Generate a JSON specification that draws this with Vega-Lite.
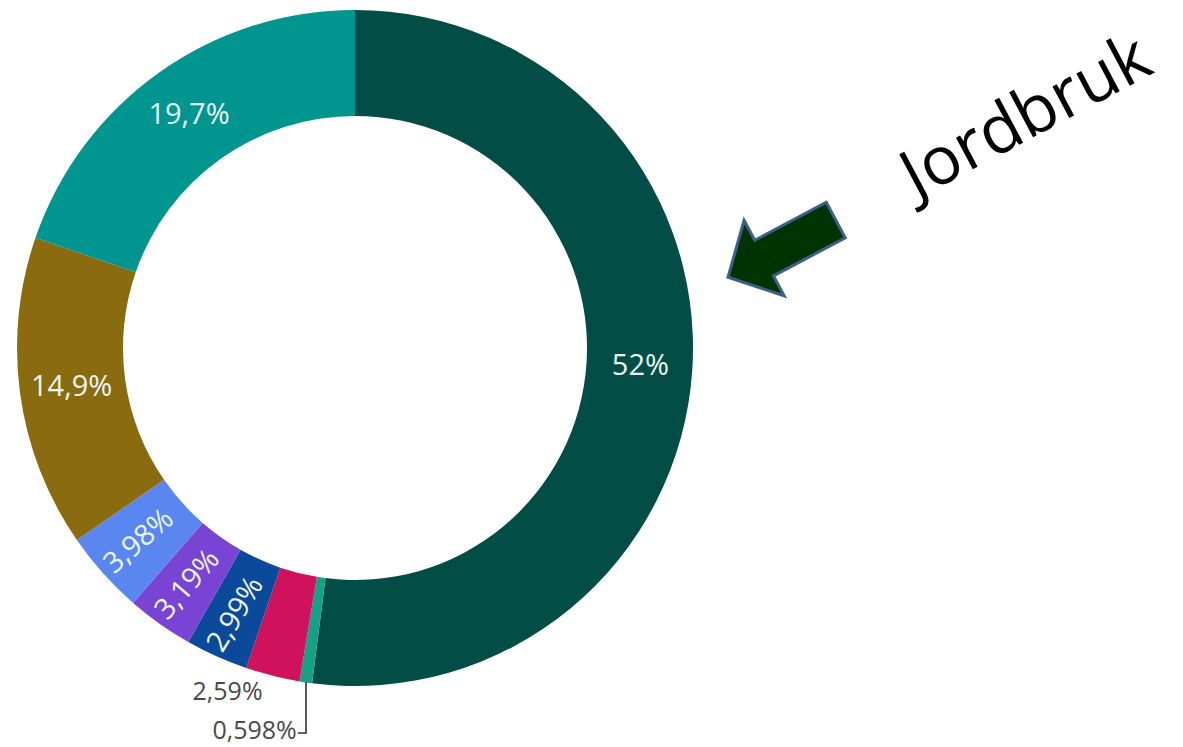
{
  "$schema": "https://vega.github.io/schema/vega-lite/v6.json",
  "width": 710,
  "height": 696,
  "padding": 0,
  "background": "white",
  "config": {"view": {"stroke": null}},
  "datasets": {
    "shares": [
      {"cat": "Jordbruk", "share": 52, "label": "52%", "rank": 1},
      {"cat": "Kategori 2", "share": 0.598, "label": "0,598%", "rank": 2},
      {"cat": "Kategori 3", "share": 2.59, "label": "2,59%", "rank": 3},
      {"cat": "Kategori 4", "share": 2.99, "label": "2,99%", "rank": 4},
      {"cat": "Kategori 5", "share": 3.19, "label": "3,19%", "rank": 5},
      {"cat": "Kategori 6", "share": 3.98, "label": "3,98%", "rank": 6},
      {"cat": "Kategori 7", "share": 14.9, "label": "14,9%", "rank": 7},
      {"cat": "Kategori 8", "share": 19.7, "label": "19,7%", "rank": 8}
    ],
    "leader": [
      {"x": -0.145, "y": -0.988, "k": 1},
      {"x": -0.145, "y": -1.139, "k": 2},
      {"x": -0.169, "y": -1.139, "k": 3}
    ],
    "note": [
      {"x": 2.015, "y": 0.628, "text": "Jordbruk"}
    ],
    "arrow": [
      {"x": 1.263, "y": 0.294}
    ]
  },
  "layer": [
    {
      "data": {"name": "shares"},
      "mark": {"type": "arc", "innerRadius": 232, "outerRadius": 338},
      "encoding": {
        "theta": {"field": "share", "type": "quantitative", "stack": true},
        "order": {"field": "rank", "type": "quantitative"},
        "color": {
          "field": "cat", "type": "nominal", "legend": null,
          "scale": {
            "domain": ["Jordbruk", "Kategori 2", "Kategori 3", "Kategori 4", "Kategori 5", "Kategori 6", "Kategori 7", "Kategori 8"],
            "range": ["#024e47", "#17a088", "#d0115c", "#0b4a9b", "#7944d3", "#5a86ef", "#8b6b10", "#00958f"]
          }
        }
      }
    },
    {
      "data": {"name": "shares"},
      "mark": {"type": "text", "radius": 286, "fontSize": 29, "font": "Open Sans", "fill": "#eaf5f3", "align": "center", "baseline": "middle"},
      "encoding": {
        "theta": {"field": "share", "type": "quantitative", "stack": true},
        "order": {"field": "rank", "type": "quantitative"},
        "detail": {"field": "cat", "type": "nominal"},
        "text": {"condition": {"test": "datum.rank == 1 || datum.rank == 7 || datum.rank == 8", "field": "label"}, "value": ""}
      }
    },
    {
      "data": {"name": "shares"},
      "mark": {"type": "text", "radius": 290, "fontSize": 29, "font": "Open Sans", "fill": "#eaf5f3", "align": "center", "baseline": "middle", "angle": 319},
      "encoding": {
        "theta": {"field": "share", "type": "quantitative", "stack": true},
        "order": {"field": "rank", "type": "quantitative"},
        "detail": {"field": "cat", "type": "nominal"},
        "text": {"condition": {"test": "datum.rank == 6", "field": "label"}, "value": ""}
      }
    },
    {
      "data": {"name": "shares"},
      "mark": {"type": "text", "radius": 290, "fontSize": 29, "font": "Open Sans", "fill": "#eaf5f3", "align": "center", "baseline": "middle", "angle": 311},
      "encoding": {
        "theta": {"field": "share", "type": "quantitative", "stack": true},
        "order": {"field": "rank", "type": "quantitative"},
        "detail": {"field": "cat", "type": "nominal"},
        "text": {"condition": {"test": "datum.rank == 5", "field": "label"}, "value": ""}
      }
    },
    {
      "data": {"name": "shares"},
      "mark": {"type": "text", "radius": 292, "fontSize": 29, "font": "Open Sans", "fill": "#eaf5f3", "align": "center", "baseline": "middle", "angle": 301},
      "encoding": {
        "theta": {"field": "share", "type": "quantitative", "stack": true},
        "order": {"field": "rank", "type": "quantitative"},
        "detail": {"field": "cat", "type": "nominal"},
        "text": {"condition": {"test": "datum.rank == 4", "field": "label"}, "value": ""}
      }
    },
    {
      "data": {"name": "shares"},
      "mark": {"type": "text", "radius": 338, "fontSize": 25, "font": "Open Sans", "fill": "#4a4a4a", "align": "right", "baseline": "middle", "dx": -10, "dy": 16},
      "encoding": {
        "theta": {"field": "share", "type": "quantitative", "stack": true},
        "order": {"field": "rank", "type": "quantitative"},
        "detail": {"field": "cat", "type": "nominal"},
        "text": {"condition": {"test": "datum.rank == 3", "field": "label"}, "value": ""}
      }
    },
    {
      "data": {"name": "shares"},
      "mark": {"type": "text", "radius": 338, "fontSize": 25, "font": "Open Sans", "fill": "#4a4a4a", "align": "right", "baseline": "middle", "dx": -9, "dy": 49},
      "encoding": {
        "theta": {"field": "share", "type": "quantitative", "stack": true},
        "order": {"field": "rank", "type": "quantitative"},
        "detail": {"field": "cat", "type": "nominal"},
        "text": {"condition": {"test": "datum.rank == 2", "field": "label"}, "value": ""}
      }
    },
    {
      "data": {"name": "leader"},
      "mark": {"type": "line", "stroke": "#333333", "strokeWidth": 1.6},
      "encoding": {
        "x": {"field": "x", "type": "quantitative", "axis": null, "scale": {"domain": [-1.0503, 1.0503], "nice": false, "zero": false}},
        "y": {"field": "y", "type": "quantitative", "axis": null, "scale": {"domain": [-1.0296, 1.0296], "nice": false, "zero": false}},
        "order": {"field": "k", "type": "quantitative"}
      }
    },
    {
      "data": {"name": "arrow"},
      "mark": {"type": "point", "shape": "M -1 0 L -0.33 -0.7 L -0.33 -0.33 L 1 -0.33 L 1 0.33 L -0.33 0.33 L -0.33 0.7 Z", "size": 14884, "angle": 332, "filled": true, "fill": "#003300", "stroke": "#3e5f8c", "strokeWidth": 3, "opacity": 1},
      "encoding": {
        "x": {"field": "x", "type": "quantitative", "axis": null, "scale": {"domain": [-1.0503, 1.0503], "nice": false, "zero": false}},
        "y": {"field": "y", "type": "quantitative", "axis": null, "scale": {"domain": [-1.0296, 1.0296], "nice": false, "zero": false}}
      }
    },
    {
      "data": {"name": "note"},
      "mark": {"type": "text", "fontSize": 67, "font": "Open Sans", "fill": "#000000", "align": "center", "baseline": "alphabetic", "angle": 332},
      "encoding": {
        "x": {"field": "x", "type": "quantitative", "axis": null, "scale": {"domain": [-1.0503, 1.0503], "nice": false, "zero": false}},
        "y": {"field": "y", "type": "quantitative", "axis": null, "scale": {"domain": [-1.0296, 1.0296], "nice": false, "zero": false}},
        "text": {"field": "text", "type": "nominal"}
      }
    }
  ]
}
